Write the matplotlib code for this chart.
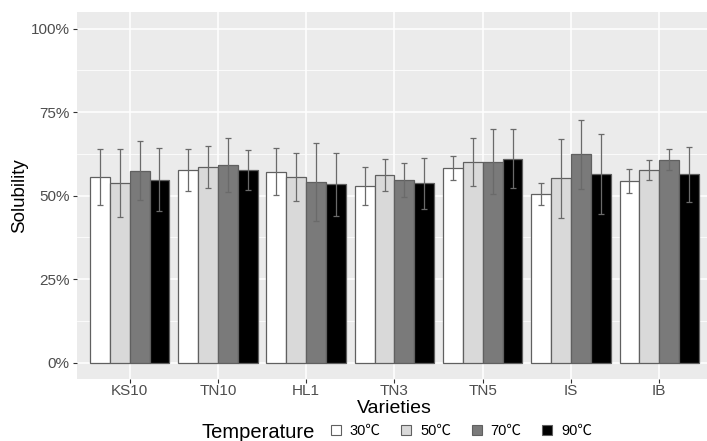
import matplotlib
matplotlib.use("Agg")
import matplotlib.pyplot as plt
import numpy as np
from matplotlib.patches import Patch

plt.rcParams['font.family'] = ['Liberation Sans', 'Noto Sans CJK SC', 'DejaVu Sans']

varieties = ["KS10", "TN10", "HL1", "TN3", "TN5", "IS", "IB"]
temps = ["30℃", "50℃", "70℃", "90℃"]
sol_30 = [55.6, 57.7, 57.2, 52.9, 58.3, 50.5, 54.4]
sol_50 = [53.8, 58.7, 55.6, 56.2, 60.1, 55.2, 57.7]
sol_70 = [57.5, 59.3, 54.2, 54.7, 60.2, 62.4, 60.8]
sol_90 = [54.8, 57.6, 53.4, 53.7, 61.1, 56.5, 56.4]
err_30 = [8.5, 6.2, 7.1, 5.7, 3.6, 3.2, 3.6]
err_50 = [10.3, 6.3, 7.3, 4.9, 7.2, 11.9, 3.1]
err_70 = [8.8, 8.1, 11.7, 5.2, 9.8, 10.4, 3.1]
err_90 = [9.4, 6.0, 9.5, 7.7, 8.9, 12.1, 8.2]
y_ticks = [0, 25, 50, 75, 100]
y_labels = ["0%", "25%", "50%", "75%", "100%"]

series = [sol_30, sol_50, sol_70, sol_90]
errors = [err_30, err_50, err_70, err_90]
fills = ["#FFFFFF", "#D9D9D9", "#7A7A7A", "#000000"]

W, H = 707, 441
fig = plt.figure(figsize=(W / 100, H / 100), dpi=100)
ax = fig.add_axes([76.7 / W, 61.7 / H, (712.2 - 76.7) / W, 367.3 / H])
ax.set_facecolor("#EBEBEB")

x = np.arange(len(varieties))
bw = 0.9 / 4
for i, (vals, errs, fc) in enumerate(zip(series, errors, fills)):
    pos = x + (i - 1.5) * bw
    ax.bar(pos, vals, width=bw, color=fc, edgecolor="#606060", linewidth=0.9, zorder=2)
    ax.errorbar(pos, vals, yerr=errs, fmt="none", ecolor="#6A6A6A", elinewidth=0.9,
                capsize=2.2, capthick=0.9, zorder=3)

ax.set_xlim(-0.6, 6.6)
ax.set_ylim(-5, 105)
ax.set_xticks(x)
ax.set_xticklabels(varieties)
ax.set_yticks(y_ticks)
ax.set_yticklabels(y_labels)
ax.set_yticks([12.5, 37.5, 62.5, 87.5], minor=True)
ax.grid(which="major", color="white", linewidth=1.1, zorder=0)
ax.grid(which="minor", axis="y", color="white", linewidth=0.55, zorder=0)
ax.set_axisbelow(True)
for s in ax.spines.values():
    s.set_visible(False)
ax.tick_params(axis="both", which="major", length=2.6, width=0.8, color="#333333",
               labelsize=11, labelcolor="#4D4D4D", pad=2.5)
ax.tick_params(axis="x", which="major", pad=1.0)
ax.tick_params(which="minor", length=0)

ax.set_xlabel("Varieties", fontsize=14, color="black", labelpad=1.0)
ax.set_ylabel("Solubility", fontsize=13.5, color="black")
ax.yaxis.set_label_coords((28.5 - 76.7) / (712.2 - 76.7), 0.5)

handles = [Patch(facecolor=fc, edgecolor="#606060", linewidth=0.8) for fc in fills]
fig.text(201 / W, 1 - 432 / H, "Temperature", fontsize=14.5, va="center", ha="left")
fig.legend(handles, temps, loc="center left", bbox_to_anchor=(331 / W, 1 - 431 / H),
           ncol=4, frameon=False, fontsize=10.5, handlelength=0.68, handleheight=0.72,
           handletextpad=0.62, columnspacing=1.4, borderpad=0, borderaxespad=0)

fig.savefig("out.png", dpi=100)
